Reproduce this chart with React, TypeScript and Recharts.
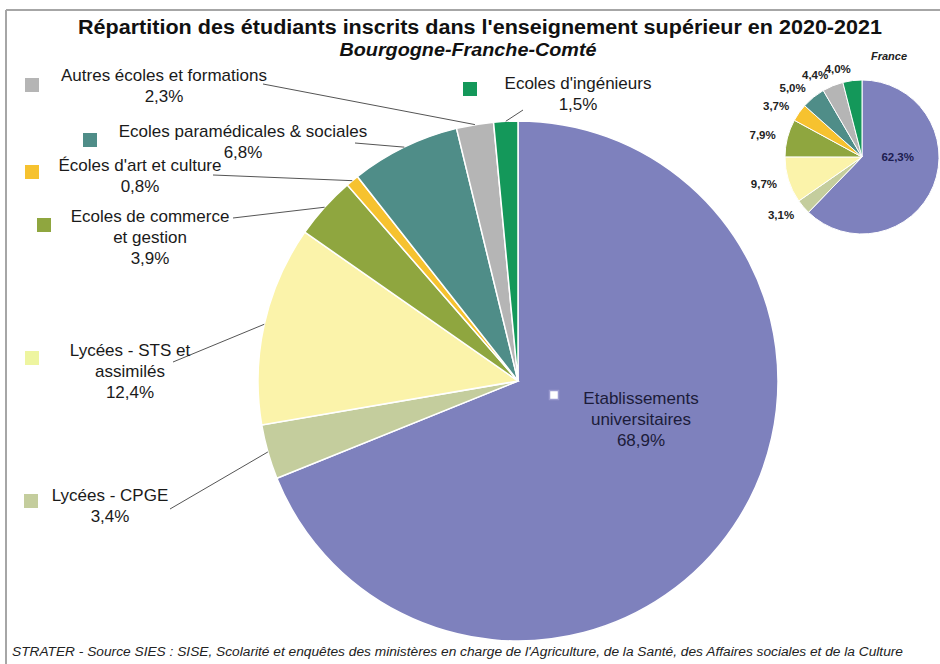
import { PieChart, Pie, Cell } from 'recharts'

// Répartition des étudiants – Bourgogne-Franche-Comté vs France (2020-2021)
const categories = [
  'Etablissements universitaires',
  'Lycées - CPGE',
  'Lycées - STS et assimilés',
  'Ecoles de commerce et gestion',
  "Écoles d'art et culture",
  'Ecoles paramédicales & sociales',
  'Autres écoles et formations',
  "Ecoles d'ingénieurs",
]
const labelLines = [
  ['Etablissements', 'universitaires'],
  ['Lycées - CPGE'],
  ['Lycées - STS et', 'assimilés'],
  ['Ecoles de commerce', 'et gestion'],
  ["Écoles d'art et culture"],
  ['Ecoles paramédicales & sociales'],
  ['Autres écoles et formations'],
  ["Ecoles d'ingénieurs"],
]
const bfcValues = [68.9, 3.4, 12.4, 3.9, 0.8, 6.8, 2.3, 1.5]
const franceValues = [62.3, 3.1, 9.7, 7.9, 3.7, 5.0, 4.4, 4.0]

const colors = ['#7e81bd', '#c4cd9d', '#fbf3aa', '#8fa63f', '#f6c22f', '#4f8d88', '#b5b5b5', '#14985a']
const squareColors = ['#ffffff', '#c4cd9d', '#eef5a0', '#8fa63f', '#f6c22f', '#4f8d88', '#b5b5b5', '#14985a']

// where each label sits (text centre, legend square, start of leader line)
const labelLayout = [
  { x: 641, y: 398, sq: [554, 395], from: null },
  { x: 110, y: 495, sq: [31, 501], from: [170, 509] },
  { x: 130, y: 350, sq: [32, 358], from: [173, 362] },
  { x: 150, y: 216, sq: [44, 225], from: [233, 218] },
  { x: 140, y: 165, sq: [32, 172], from: [213, 175] },
  { x: 243, y: 131, sq: [90, 140], from: [355, 143] },
  { x: 164, y: 75, sq: [32, 85], from: [263, 84] },
  { x: 578, y: 83, sq: [470, 89], from: [523, 110] },
]

const bfcData = categories.map((name, i) => ({ name, value: bfcValues[i] }))
const franceData = categories.map((name, i) => ({ name, value: franceValues[i] }))

const RADIAN = Math.PI / 180
const fmt = (v: number) => v.toFixed(1).replace('.', ',') + '%'
const FONT = "'Liberation Sans', Arial, sans-serif"

const renderMainLabel = (props: any) => {
  const { cx, cy, midAngle, outerRadius, index } = props
  const lay = labelLayout[index]
  const lines = [...labelLines[index], fmt(bfcValues[index])]
  const inside = lay.from === null
  const ex = cx + outerRadius * Math.cos(-midAngle * RADIAN)
  const ey = cy + outerRadius * Math.sin(-midAngle * RADIAN)
  const sqSize = inside ? 9 : 14
  return (
    <g key={`lbl-${index}`}>
      {lay.from && (
        <line x1={lay.from[0]} y1={lay.from[1]} x2={ex} y2={ey} stroke="#555" strokeWidth={1} />
      )}
      <rect
        x={lay.sq[0] - sqSize / 2}
        y={lay.sq[1] - sqSize / 2}
        width={sqSize}
        height={sqSize}
        fill={squareColors[index]}
        stroke={inside ? '#9a9ad0' : 'none'}
        strokeWidth={inside ? 1.5 : 0}
      />
      {lines.map((t, j) => (
        <text
          key={j}
          x={lay.x}
          y={lay.y + j * 21}
          textAnchor="middle"
          dominantBaseline="central"
          fontFamily={FONT}
          fontSize={17}
          fill={inside ? '#1c1c3a' : '#1a1a1a'}
        >
          {t}
        </text>
      ))}
    </g>
  )
}

const renderFranceLabel = (props: any) => {
  const { cx, cy, midAngle, outerRadius, index } = props
  const inside = index === 0
  const r = inside ? outerRadius * 0.5 : outerRadius + 12
  const x = cx + r * Math.cos(-midAngle * RADIAN)
  const y = cy + r * Math.sin(-midAngle * RADIAN)
  return (
    <text
      key={`fr-${index}`}
      x={x}
      y={inside ? cy : y}
      textAnchor={inside ? 'middle' : 'end'}
      dominantBaseline="central"
      fontFamily={FONT}
      fontSize={11.5}
      fontWeight="bold"
      fill={inside ? '#1c1c50' : '#222'}
    >
      {fmt(franceValues[index])}
    </text>
  )
}

export default function App() {
  return (
    <div style={{ position: 'relative', width: 940, height: 664, background: '#fff', overflow: 'hidden' }}>
      <style>{'body{margin:0}'}</style>
      <PieChart
        width={940}
        height={664}
        margin={{ top: 0, right: 0, bottom: 0, left: 0 }}
        style={{ position: 'absolute', left: 0, top: 0 }}
      >
        <Pie
          data={bfcData}
          dataKey="value"
          nameKey="name"
          cx={518}
          cy={381}
          outerRadius={260}
          startAngle={90}
          endAngle={-270}
          stroke="#fff"
          strokeWidth={1.5}
          label={renderMainLabel}
          labelLine={false}
          isAnimationActive={false}
        >
          {bfcData.map((d, i) => (
            <Cell key={d.name} fill={colors[i]} />
          ))}
        </Pie>
        <Pie
          data={franceData}
          dataKey="value"
          nameKey="name"
          cx={862}
          cy={157}
          outerRadius={77}
          startAngle={90}
          endAngle={-270}
          stroke="#fff"
          strokeWidth={1}
          label={renderFranceLabel}
          labelLine={false}
          isAnimationActive={false}
        >
          {franceData.map((d, i) => (
            <Cell key={d.name} fill={colors[i]} />
          ))}
        </Pie>
      </PieChart>
      <svg width={940} height={664} style={{ position: 'absolute', left: 0, top: 0, pointerEvents: 'none' }}>
        <line x1={6} y1={10} x2={940} y2={10} stroke="#a6a6a6" strokeWidth={2} />
        <line x1={6} y1={10} x2={6} y2={664} stroke="#a6a6a6" strokeWidth={2} />
        <text
          x={480}
          y={34}
          textAnchor="middle"
          fontFamily={FONT}
          fontWeight="bold"
          fontSize={20}
          fill="#111"
          textLength={804}
          lengthAdjust="spacingAndGlyphs"
        >
          Répartition des étudiants inscrits dans l'enseignement supérieur en 2020-2021
        </text>
        <text
          x={468}
          y={56}
          textAnchor="middle"
          fontFamily={FONT}
          fontWeight="bold"
          fontStyle="italic"
          fontSize={18}
          fill="#111"
          textLength={257}
          lengthAdjust="spacingAndGlyphs"
        >
          Bourgogne-Franche-Comté
        </text>
        <text
          x={889}
          y={60}
          textAnchor="middle"
          fontFamily={FONT}
          fontWeight="bold"
          fontStyle="italic"
          fontSize={11}
          fill="#222"
        >
          France
        </text>
        <text
          x={12}
          y={656}
          fontFamily={FONT}
          fontStyle="italic"
          fontSize={12}
          fill="#222"
          textLength={891}
          lengthAdjust="spacingAndGlyphs"
        >
          STRATER - Source SIES : SISE, Scolarité et enquêtes des ministères en charge de l'Agriculture, de la Santé, des Affaires sociales et de la Culture
        </text>
      </svg>
    </div>
  )
}
